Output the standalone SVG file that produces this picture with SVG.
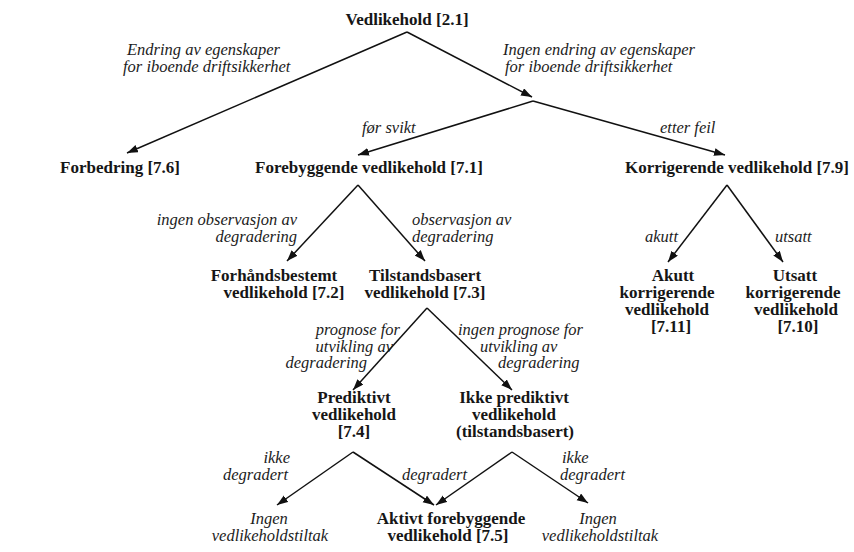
<svg xmlns="http://www.w3.org/2000/svg" width="854" height="552" viewBox="0 0 854 552">
  <style>
    .node { font-family: "Liberation Serif", "Times New Roman", serif; font-weight: bold; font-size: 17px; fill: #161616; text-anchor: middle; }
    .lbl { font-family: "Liberation Serif", "Times New Roman", serif; font-style: italic; font-size: 16.5px; fill: #1c1c1c; }
    .end { text-anchor: end; }
    .mid { text-anchor: middle; }
    .edge { fill: none; stroke: #111; stroke-width: 1.5; }
    .arr { marker-end: url(#head); }
  </style>
  <defs>
    <marker id="head" markerUnits="userSpaceOnUse" markerWidth="12" markerHeight="10" refX="11" refY="4" orient="auto">
      <path d="M0,0 L11,4 L0,8 Z" fill="#111"/>
    </marker>
  </defs>
  <rect width="854" height="552" fill="#fff"/>

  <!-- connectors -->
  <g id="connectors">
    <line class="edge arr" x1="407" y1="32" x2="127" y2="153"/>
    <line class="edge arr" x1="407" y1="32" x2="532" y2="97"/>
    <line class="edge arr" x1="533" y1="101" x2="358" y2="155"/>
    <line class="edge arr" x1="533" y1="101" x2="725" y2="155"/>
    <line class="edge arr" x1="358" y1="185" x2="287" y2="261"/>
    <line class="edge arr" x1="358" y1="185" x2="425" y2="261"/>
    <line class="edge arr" x1="727" y1="185" x2="668" y2="262"/>
    <line class="edge arr" x1="727" y1="185" x2="783" y2="262"/>
    <line class="edge arr" x1="427" y1="308" x2="353" y2="390"/>
    <line class="edge arr" x1="427" y1="308" x2="512" y2="390"/>
    <line class="edge arr" x1="353" y1="452" x2="277" y2="505"/>
    <line class="edge arr" x1="353" y1="452" x2="434" y2="505"/>
    <line class="edge arr" x1="512" y1="452" x2="436" y2="505"/>
    <line class="edge arr" x1="512" y1="452" x2="588" y2="503"/>

    <!-- edge labels -->
    <text class="lbl" x="127" y="55">Endring av egenskaper</text>
    <text class="lbl" x="123" y="72">for iboende driftsikkerhet</text>
    <text class="lbl" x="503" y="55">Ingen endring av egenskaper</text>
    <text class="lbl" x="505" y="72">for iboende driftsikkerhet</text>
    <text class="lbl" x="362" y="133">før svikt</text>
    <text class="lbl" x="660" y="133">etter feil</text>
    <text class="lbl end" x="297" y="225">ingen observasjon av</text>
    <text class="lbl end" x="297" y="242">degradering</text>
    <text class="lbl" x="412" y="225">observasjon av</text>
    <text class="lbl" x="412" y="242">degradering</text>
    <text class="lbl end" x="678" y="242">akutt</text>
    <text class="lbl" x="775" y="242">utsatt</text>
    <text class="lbl end" x="400" y="335">prognose for</text>
    <text class="lbl end" x="393" y="352">utvikling av</text>
    <text class="lbl end" x="367" y="368">degradering</text>
    <text class="lbl" x="458" y="335">ingen prognose for</text>
    <text class="lbl" x="480" y="352">utvikling av</text>
    <text class="lbl" x="498" y="368">degradering</text>
    <text class="lbl end" x="290" y="463">ikke</text>
    <text class="lbl end" x="288" y="480">degradert</text>
    <text class="lbl" x="402" y="480">degradert</text>
    <text class="lbl" x="562" y="463">ikke</text>
    <text class="lbl" x="560" y="480">degradert</text>
  </g>

  <!-- nodes -->
  <g id="n-vedlikehold"><text class="node" x="407" y="25">Vedlikehold [2.1]</text></g>
  <g id="n-forbedring"><text class="node" x="120" y="173">Forbedring [7.6]</text></g>
  <g id="n-forebyggende"><text class="node" x="369" y="173">Forebyggende vedlikehold [7.1]</text></g>
  <g id="n-korrigerende"><text class="node" x="737" y="173">Korrigerende vedlikehold [7.9]</text></g>
  <g id="n-forhandsbestemt">
    <text class="node" x="274" y="281">Forhåndsbestemt</text>
    <text class="node" x="284" y="298">vedlikehold [7.2]</text>
  </g>
  <g id="n-tilstandsbasert">
    <text class="node" x="425" y="281">Tilstandsbasert</text>
    <text class="node" x="425" y="298">vedlikehold [7.3]</text>
  </g>
  <g id="n-akutt">
    <text class="node" x="673" y="281">Akutt</text>
    <text class="node" x="667" y="298">korrigerende</text>
    <text class="node" x="667" y="315">vedlikehold</text>
    <text class="node" x="671" y="332">[7.11]</text>
  </g>
  <g id="n-utsatt">
    <text class="node" x="795" y="281">Utsatt</text>
    <text class="node" x="793" y="298">korrigerende</text>
    <text class="node" x="796" y="315">vedlikehold</text>
    <text class="node" x="798" y="332">[7.10]</text>
  </g>
  <g id="n-prediktivt">
    <text class="node" x="354" y="403">Prediktivt</text>
    <text class="node" x="354" y="420">vedlikehold</text>
    <text class="node" x="354" y="437">[7.4]</text>
  </g>
  <g id="n-ikke-prediktivt">
    <text class="node" x="514" y="403">Ikke prediktivt</text>
    <text class="node" x="514" y="420">vedlikehold</text>
    <text class="node" x="515" y="437">(tilstandsbasert)</text>
  </g>
  <g id="n-ingen-1">
    <text class="lbl mid" x="269" y="524">Ingen</text>
    <text class="lbl mid" x="270" y="541">vedlikeholdstiltak</text>
  </g>
  <g id="n-aktivt">
    <text class="node" x="451" y="524">Aktivt forebyggende</text>
    <text class="node" x="448" y="541">vedlikehold [7.5]</text>
  </g>
  <g id="n-ingen-2">
    <text class="lbl mid" x="598" y="524">Ingen</text>
    <text class="lbl mid" x="600" y="541">vedlikeholdstiltak</text>
  </g>
</svg>
